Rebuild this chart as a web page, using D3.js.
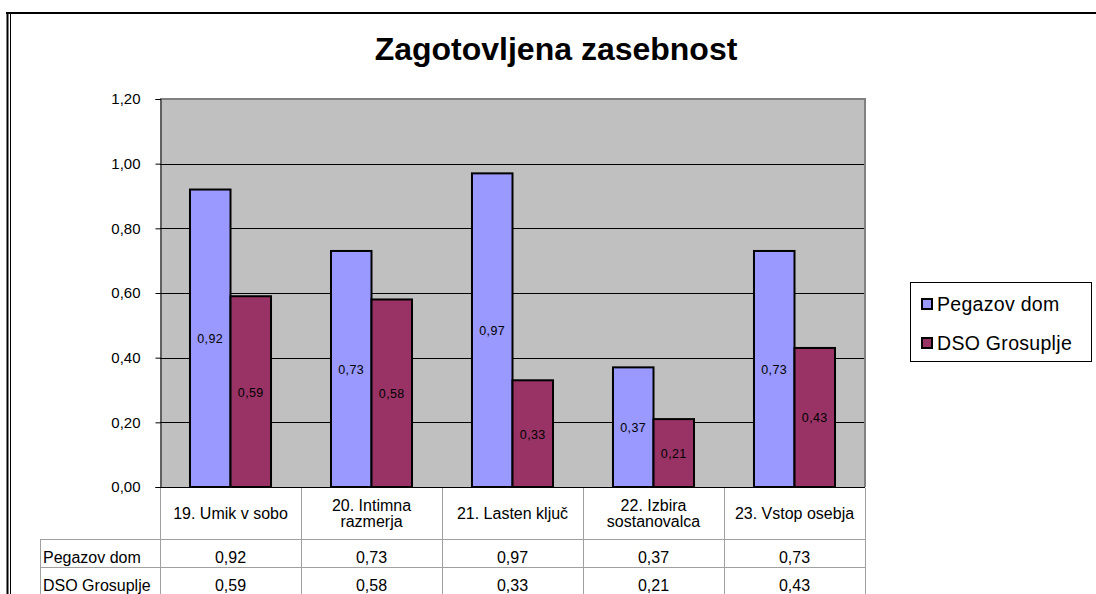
<!DOCTYPE html>
<html>
<head>
<meta charset="utf-8">
<script src="https://cdn.jsdelivr.net/npm/d3@7/dist/d3.min.js"></script>
<style>
body { margin: 0; background: #fff; }
svg { display: block; }
text { font-family: "Liberation Sans", Arial, sans-serif; fill: #000; }
</style>
</head>
<body>
<svg id="chart" width="1096" height="594"></svg>
<script>
const title = "Zagotovljena zasebnost";
const categories = ["19. Umik v sobo", "20. Intimna razmerja", "21. Lasten ključ", "22. Izbira sostanovalca", "23. Vstop osebja"];
const categoryLines = [["19. Umik v sobo"], ["20. Intimna", "razmerja"], ["21. Lasten ključ"], ["22. Izbira", "sostanovalca"], ["23. Vstop osebja"]];
const seriesNames = ["Pegazov dom", "DSO Grosuplje"];
const pegazovValues = [0.92, 0.73, 0.97, 0.37, 0.73];
const dsoValues = [0.59, 0.58, 0.33, 0.21, 0.43];
const yTicks = [0, 0.2, 0.4, 0.6, 0.8, 1.0, 1.2];
const colors = ["#9999FF", "#993366"];

const seriesValues = [pegazovValues, dsoValues];
const fmt = v => d3.format(".2f")(v).replace(".", ",");

const svg = d3.select("#chart");

// outer frame
svg.append("line").attr("x1", 6).attr("x2", 1096).attr("y1", 13).attr("y2", 13).attr("stroke", "#000").attr("stroke-width", 2);
svg.append("line").attr("x1", 7.5).attr("x2", 7.5).attr("y1", 12).attr("y2", 594).attr("stroke", "#000").attr("stroke-width", 2);
svg.append("line").attr("x1", 10.5).attr("x2", 10.5).attr("y1", 14).attr("y2", 594).attr("stroke", "#000").attr("stroke-width", 1);

// title
svg.append("text").attr("x", 556).attr("y", 60).attr("text-anchor", "middle")
  .style("font-size", "32px").style("font-weight", "bold").text(title);

const plotL = 160, plotR = 865, plotT = 99, plotB = 487;
const x0 = d3.scaleBand().domain(categories).range([plotL, plotR]).paddingInner(0).paddingOuter(0);
const x1 = d3.scaleBand().domain(seriesNames).range([0, x0.bandwidth()]).paddingInner(0).paddingOuter(0.74);
const y = d3.scaleLinear().domain([0, 1.2]).range([plotB, plotT]);

// plot background
svg.append("rect").attr("x", plotL).attr("y", plotT).attr("width", plotR - plotL).attr("height", plotB - plotT).attr("fill", "#C0C0C0");

// gridlines
svg.append("g").selectAll("line").data(yTicks.filter(t => t > 0 && t < 1.2)).join("line")
  .attr("x1", plotL).attr("x2", plotR).attr("y1", d => Math.round(y(d)) + 0.5).attr("y2", d => Math.round(y(d)) + 0.5)
  .attr("stroke", "#000").attr("stroke-width", 1);

// plot border (top & right)
svg.append("path").attr("d", `M${plotL},${plotT} H${plotR} V${plotB}`).attr("fill", "none").attr("stroke", "#808080").attr("stroke-width", 2);

// bars
const groups = svg.append("g").selectAll("g").data(categories).join("g")
  .attr("transform", d => `translate(${x0(d)},0)`);
groups.selectAll("rect").data((d, i) => seriesNames.map((s, j) => ({ s, j, v: seriesValues[j][i] }))).join("rect")
  .attr("x", d => x1(d.s)).attr("y", d => y(d.v)).attr("width", x1.bandwidth()).attr("height", d => plotB - y(d.v))
  .attr("fill", d => colors[d.j]).attr("stroke", "#000").attr("stroke-width", 2);
groups.selectAll("text").data((d, i) => seriesNames.map((s, j) => ({ s, j, v: seriesValues[j][i] }))).join("text")
  .attr("x", d => x1(d.s) + x1.bandwidth() / 2).attr("y", d => (y(d.v) + plotB) / 2 + 5)
  .attr("text-anchor", "middle").style("font-size", "12.5px").style("letter-spacing", "0.4px").text(d => fmt(d.v));

// y axis
const yAxis = d3.axisLeft(y).tickValues(yTicks).tickSize(5).tickPadding(15).tickFormat(fmt);
const ya = svg.append("g").attr("transform", `translate(${plotL + 0.5},0)`).call(yAxis);
ya.select(".domain").attr("stroke", "#000");
ya.selectAll(".tick line").attr("stroke", "#000");
ya.selectAll(".tick text").style("font-size", "15px").style("font-family", "'Liberation Sans', Arial, sans-serif").attr("fill", "#000");

// x axis line
svg.append("line").attr("x1", plotL).attr("x2", plotR).attr("y1", plotB + 0.5).attr("y2", plotB + 0.5).attr("stroke", "#000");

// data table
const tableStroke = "#A0A0A0";
const rowTop1 = 539.5, rowTop2 = 567.5, tableBottom = 600;
const tg = svg.append("g");
const vx = [plotL].concat(categories.map(c => x0(c) + x0.bandwidth()));
tg.selectAll("line.v").data(vx).join("line").attr("class", "v")
  .attr("x1", d => Math.round(d) + 0.5).attr("x2", d => Math.round(d) + 0.5).attr("y1", plotB + 1).attr("y2", tableBottom)
  .attr("stroke", tableStroke);
tg.append("line").attr("x1", 40.5).attr("x2", 40.5).attr("y1", rowTop1).attr("y2", tableBottom).attr("stroke", tableStroke);
[rowTop1, rowTop2].forEach(yy => tg.append("line").attr("x1", 40).attr("x2", plotR + 1).attr("y1", yy).attr("y2", yy).attr("stroke", tableStroke));

// category labels
categoryLines.forEach((lines, i) => {
  const cx = x0(categories[i]) + x0.bandwidth() / 2;
  const t = tg.append("text").attr("x", cx).attr("text-anchor", "middle").style("font-size", "16px");
  if (lines.length === 1) {
    t.attr("y", 519).text(lines[0]);
  } else {
    lines.forEach((ln, k) => t.append("tspan").attr("x", cx).attr("y", 511 + k * 16).text(ln));
  }
});

// row labels and values
const rowBaselines = [563, 591];
seriesNames.forEach((s, j) => {
  tg.append("text").attr("x", 43).attr("y", rowBaselines[j]).style("font-size", "16px").text(s);
  tg.selectAll(null).data(seriesValues[j]).join("text")
    .attr("x", (d, i) => x0(categories[i]) + x0.bandwidth() / 2).attr("y", rowBaselines[j])
    .attr("text-anchor", "middle").style("font-size", "16px").text(d => fmt(d));
});

// legend
const lg = svg.append("g");
lg.append("rect").attr("x", 910.5).attr("y", 282.5).attr("width", 181).attr("height", 79).attr("fill", "#fff").attr("stroke", "#000");
const legendY = [311, 350];
seriesNames.forEach((s, j) => {
  lg.append("rect").attr("x", 922).attr("y", legendY[j] - 12).attr("width", 10).attr("height", 10)
    .attr("fill", colors[j]).attr("stroke", "#000").attr("stroke-width", 2);
  lg.append("text").attr("x", 937).attr("y", legendY[j]).style("font-size", "19.5px").style("letter-spacing", "0.3px").text(s);
});
</script>
</body>
</html>
